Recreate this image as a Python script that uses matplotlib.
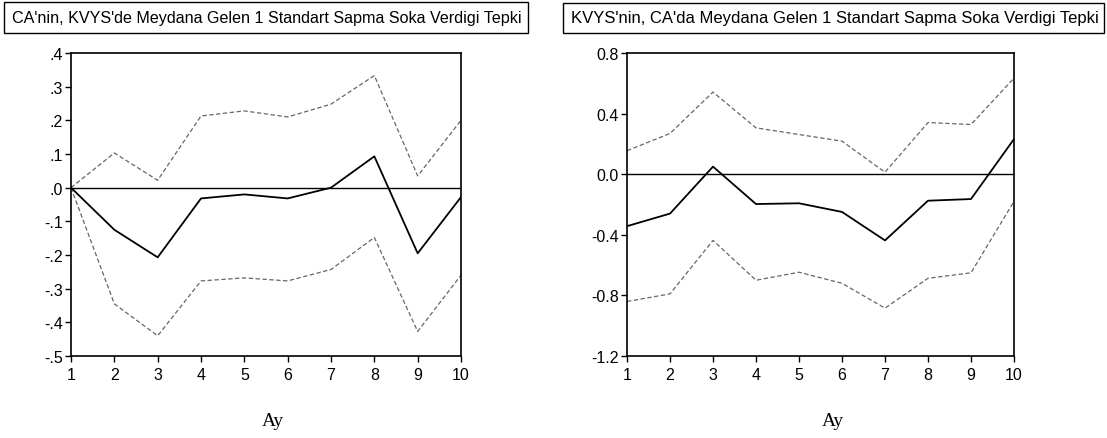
import numpy as np
import matplotlib
matplotlib.use("Agg")
import matplotlib.pyplot as plt
from matplotlib.patches import Rectangle

# data
ay = [1, 2, 3, 4, 5, 6, 7, 8, 9, 10]

left_title = "CA'nin, KVYS'de Meydana Gelen 1 Standart Sapma Soka Verdigi Tepki"
left_resp = [0.0, -0.125, -0.207, -0.032, -0.020, -0.032, 0.0, 0.093, -0.195, -0.028]
left_upper = [0.0, 0.103, 0.022, 0.213, 0.228, 0.210, 0.248, 0.333, 0.035, 0.200]
left_lower = [0.0, -0.345, -0.440, -0.277, -0.268, -0.277, -0.243, -0.148, -0.427, -0.260]
left_yticks = [0.4, 0.3, 0.2, 0.1, 0.0, -0.1, -0.2, -0.3, -0.4, -0.5]
left_ylabels = [".4", ".3", ".2", ".1", ".0", "-.1", "-.2", "-.3", "-.4", "-.5"]

right_title = "KVYS'nin, CA'da Meydana Gelen 1 Standart Sapma Soka Verdigi Tepki"
right_resp = [-0.343, -0.260, 0.050, -0.197, -0.192, -0.249, -0.437, -0.175, -0.164, 0.232]
right_upper = [0.155, 0.269, 0.542, 0.306, 0.262, 0.218, 0.013, 0.341, 0.328, 0.634]
right_lower = [-0.840, -0.790, -0.437, -0.700, -0.647, -0.720, -0.884, -0.687, -0.651, -0.179]
right_yticks = [0.8, 0.4, 0.0, -0.4, -0.8, -1.2]
right_ylabels = ["0.8", "0.4", "0.0", "-0.4", "-0.8", "-1.2"]

W, H = 1107, 439
fig = plt.figure(figsize=(W / 100, H / 100), dpi=100)
plt.rcParams['font.family'] = ['Liberation Sans', 'DejaVu Sans']


def px_axes(x0, x1, y0, y1):
    return fig.add_axes([x0 / W, 1 - y1 / H, (x1 - x0) / W, (y1 - y0) / H])


def draw_panel(ax, resp, upper, lower, yticks, ylabels):
    ax.plot(ay, upper, color='#666666', lw=0.9, ls=(0, (3.5, 2)))
    ax.plot(ay, lower, color='#666666', lw=0.9, ls=(0, (3.5, 2)))
    ax.axhline(0, color='black', lw=1.0)
    ax.plot(ay, resp, color='black', lw=1.3)
    ax.set_xlim(1, 10)
    ax.set_ylim(min(yticks), max(yticks))
    ax.set_xticks(ay)
    ax.set_yticks(yticks)
    ax.set_yticklabels(ylabels)
    ax.tick_params(direction='out', length=4, width=1, labelsize=11.5, pad=2)
    ax.tick_params(axis='x', pad=4)
    for s in ax.spines.values():
        s.set_linewidth(1.2)


def title_box(x0, x1, y0, y1, txt, size):
    fig.patches.append(Rectangle((x0 / W, 1 - y1 / H), (x1 - x0) / W, (y1 - y0) / H,
                                 transform=fig.transFigure, fill=False,
                                 edgecolor='black', lw=1.0))
    fig.text((x0 + 8) / W, 1 - (y0 + y1) / 2 / H, txt, ha='left', va='center',
             fontsize=size)


ax1 = px_axes(71, 461, 54, 357)
draw_panel(ax1, left_resp, left_upper, left_lower, left_yticks, left_ylabels)
title_box(4, 528, 3, 34, left_title, 11.6)
fig.text(273 / W, 1 - 422 / H, "Ay", ha='center', va='center', fontsize=14,
         family=['Liberation Serif', 'DejaVu Serif'])

ax2 = px_axes(627, 1014, 54, 357)
draw_panel(ax2, right_resp, right_upper, right_lower, right_yticks, right_ylabels)
title_box(563, 1104, 4, 34, right_title, 12)
fig.text(833 / W, 1 - 422 / H, "Ay", ha='center', va='center', fontsize=14,
         family=['Liberation Serif', 'DejaVu Serif'])

fig.savefig("out.png", dpi=100)
